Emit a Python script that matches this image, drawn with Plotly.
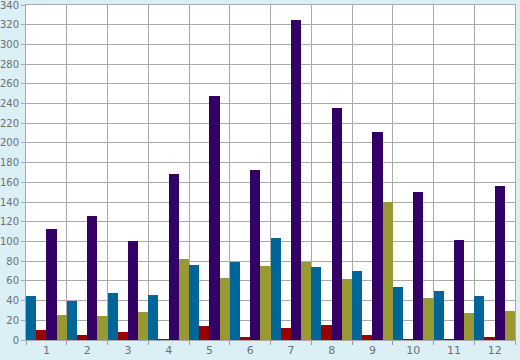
import plotly.graph_objects as go

categories = [str(i) for i in range(1, 13)]
blue_vals = [45, 40, 48, 46, 76, 79, 104, 74, 70, 54, 50, 45]
red_vals = [10, 5, 8, 1, 14, 3, 12, 15, 5, 1, 0.5, 3]
purple_vals = [113, 126, 100, 168, 248, 173, 325, 235, 211, 150, 102, 156]
olive_vals = [25, 24, 28, 82, 63, 75, 79, 62, 140, 43, 27, 29]
y_max = 340

series = [
    ("Blue", blue_vals, "#006699"),
    ("Red", red_vals, "#990000"),
    ("Purple", purple_vals, "#330066"),
    ("Olive", olive_vals, "#999933"),
]

xpos = list(range(1, len(categories) + 1))

fig = go.Figure()
for name, vals, col in series:
    fig.add_trace(go.Bar(x=xpos, y=vals, name=name, marker_color=col,
                         marker_line_width=0))

fig.update_layout(
    width=520, height=360,
    margin=dict(l=26, r=5, t=5, b=20),
    paper_bgcolor="#daeff6",
    plot_bgcolor="white",
    barmode="group", bargap=0, bargroupgap=0,
    showlegend=False,
    font=dict(family="DejaVu Sans", size=10, color="#707070"),
)
fig.update_xaxes(
    range=[0.5, 12.5], automargin=False,
    tickmode="array", tickvals=xpos, ticktext=categories,
    showgrid=False, ticks="",
    minor=dict(tickmode="array", tickvals=[i + 0.5 for i in range(0, 13)],
               showgrid=True, gridcolor="#aaaaaa", gridwidth=1,
               ticks="outside", ticklen=4, tickcolor="#999999"),
    showline=True, linecolor="#aaaaaa", mirror=True, linewidth=1,
    zeroline=False, tickfont=dict(size=11),
)
fig.update_yaxes(
    range=[0, y_max], dtick=20, tick0=0, automargin=False,
    showgrid=True, gridcolor="#aaaaaa", gridwidth=1,
    ticks="outside", ticklen=4, tickcolor="#aaaaaa",
    showline=True, linecolor="#aaaaaa", mirror=True, linewidth=1,
    zeroline=False, tickfont=dict(size=10),
)
fig.add_annotation(
    x=0, xref="paper", y=y_max, yref="y", text=str(y_max),
    showarrow=False, xanchor="right", yanchor="middle", xshift=-5,
    font=dict(family="DejaVu Sans", size=10, color="#707070"),
)

fig.write_html("out.html")
